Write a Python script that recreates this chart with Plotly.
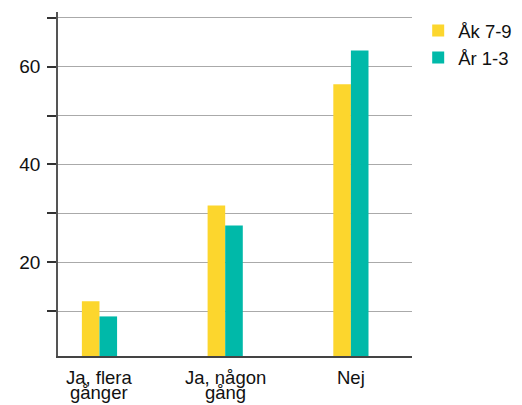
import plotly.graph_objects as go

categories = ["Ja, flera\ngånger", "Ja, någon\ngång", "Nej"]
series_names = ["Åk 7-9", "År 1-3"]
ak79 = [12.0, 31.6, 56.4]
ar13 = [8.9, 27.5, 63.3]
ytick_vals = [10, 20, 30, 40, 50, 60, 70]
ytick_text = ["", "20", "", "40", "", "60", ""]

colors = ["#FCD62D", "#00B9A9"]
FONT = "Liberation Sans, Arial, sans-serif"

fig = go.Figure()
for name, vals, col in zip(series_names, [ak79, ar13], colors):
    fig.add_trace(go.Bar(x=categories, y=vals, name=name,
                         marker=dict(color=col, line=dict(width=0))))

# category labels drawn line by line (tight line spacing as in the reference)
for cat in categories:
    for i, line in enumerate(cat.split("\n")):
        fig.add_annotation(x=cat, y=0, xref="x", yref="paper",
                           text=line, showarrow=False,
                           xanchor="center", yanchor="top",
                           yshift=-9 - 14.5 * i,
                           font=dict(family=FONT, size=18.5, color="#111"))

# page body has an 8px default margin, so the figure is drawn at (8, 8)
fig.update_layout(
    width=514, height=397,
    margin=dict(l=50, r=110, t=4, b=49, autoexpand=False),
    paper_bgcolor="white", plot_bgcolor="white",
    barmode="group", bargap=0.72, bargroupgap=0,
    font=dict(family=FONT, size=19, color="#111"),
    showlegend=True,
    legend=dict(x=1.0175, y=1.0, xanchor="left", yanchor="top",
                font=dict(size=18.5, color="#111"), tracegroupgap=0,
                itemwidth=30, bgcolor="rgba(0,0,0,0)"),
)
fig.update_xaxes(
    type="category", range=[-0.33, 2.486], automargin=False,
    showline=True, linecolor="#444", linewidth=1.5,
    ticks="", showgrid=False, showticklabels=False,
    fixedrange=True,
)
fig.update_yaxes(
    range=[0.8, 71.2], automargin=False,
    tickmode="array", tickvals=ytick_vals, ticktext=ytick_text,
    showline=True, linecolor="#555", linewidth=1.5,
    ticks="outside", ticklen=9, tickwidth=1.5, tickcolor="#333",
    ticklabelstandoff=3,
    showgrid=True, gridcolor="#aaaaaa", gridwidth=1,
    zeroline=False, tickfont=dict(size=19, color="#111"),
    fixedrange=True,
)

fig.write_html("out.html")
